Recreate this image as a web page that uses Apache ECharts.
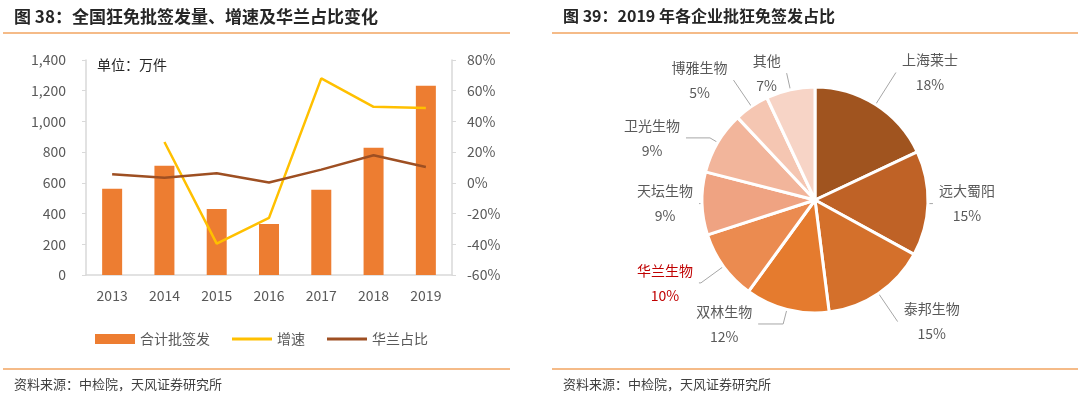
<!DOCTYPE html>
<html>
<head>
<meta charset="utf-8">
<script src="https://cdn.jsdelivr.net/npm/echarts@6/dist/echarts.min.js"></script>
<style>
  html, body { margin: 0; padding: 0; background: #fff; }
  #main { width: 1080px; height: 398px; }
</style>
</head>
<body>
<div id="main"></div>
<script>
  // 图38 data
  var years = ['2013', '2014', '2015', '2016', '2017', '2018', '2019'];
  var totalIssued = [562, 712, 430, 332, 555, 828, 1232];       // 万件
  var growthRate = [null, 26.6, -39.6, -22.8, 68.0, 49.5, 48.8]; // %
  var hualanShare = [5.6, 3.4, 6.3, 0.2, 8.6, 18.0, 10.3];       // %
  var volumeTicks = [0, 200, 400, 600, 800, 1000, 1200, 1400];
  var rateTicks = [-60, -40, -20, 0, 20, 40, 60, 80];

  // 图39 data
  var companies = ['上海莱士', '远大蜀阳', '泰邦生物', '双林生物', '华兰生物', '天坛生物', '卫光生物', '博雅生物', '其他'];
  var shares = [18, 15, 15, 12, 10, 9, 9, 5, 7];

  // styling for the pie: slice colours and leader line lengths [length, length2]
  var sliceColors = ['#A0541F', '#BF6226', '#D4702B', '#E57B2E', '#EB8B50', '#EFA382', '#F2B59B', '#F5C6B2', '#F7D4C6'];
  var leaderLines = [[38, 0], [1, 4], [34, 0], [15, 25], [28, 2], [1, 2], [9, 24], [32, 0], [17, 0]];

  var cjk = '"Noto Sans CJK SC", "Noto Sans", sans-serif';
  var grey = '#595959';
  var orangeRule = '#F2A560';
  // plain line legend icon (the extra move-to points keep the full icon box)
  var lineIcon = 'path://M0,0 M0,3.6 L40,3.6 L40,6.4 L0,6.4 Z M40,10';

  var chart = echarts.init(document.getElementById('main'));

  var pieData = companies.map(function (name, i) {
    return {
      name: name,
      value: shares[i],
      itemStyle: { color: sliceColors[i] },
      label: {
        color: name === '华兰生物' ? '#C00000' : grey,
        rich: { n: { width: name.length * 14 + 2, align: 'center', fontSize: 14, lineHeight: 25, fontFamily: cjk } }
      },
      labelLine: { length: leaderLines[i][0], length2: leaderLines[i][1] }
    };
  });

  chart.setOption({
    animation: false,
    textStyle: { fontFamily: cjk },
    graphic: [
      { type: 'text', left: 14, top: 8, style: { text: '图 38：全国狂免批签发量、增速及华兰占比变化', font: 'bold 17px ' + cjk, fill: '#262626' } },
      { type: 'text', left: 563, top: 8, style: { text: '图 39：2019 年各企业批狂免签发占比', font: 'bold 16px ' + cjk, fill: '#262626' } },
      { type: 'line', shape: { x1: 3, y1: 33, x2: 510, y2: 33 }, style: { stroke: orangeRule, lineWidth: 1.5 } },
      { type: 'line', shape: { x1: 552, y1: 33, x2: 1078, y2: 33 }, style: { stroke: orangeRule, lineWidth: 1.5 } },
      { type: 'line', shape: { x1: 3, y1: 369, x2: 510, y2: 369 }, style: { stroke: orangeRule, lineWidth: 1.5 } },
      { type: 'line', shape: { x1: 552, y1: 369, x2: 1078, y2: 369 }, style: { stroke: orangeRule, lineWidth: 1.5 } },
      { type: 'text', left: 14, top: 378, style: { text: '资料来源：中检院，天风证券研究所', font: '13px ' + cjk, fill: '#404040' } },
      { type: 'text', left: 563, top: 378, style: { text: '资料来源：中检院，天风证券研究所', font: '13px ' + cjk, fill: '#404040' } },
      { type: 'text', left: 97, top: 58, style: { text: '单位：万件', font: '14px ' + cjk, fill: '#262626' } }
    ],
    legend: {
      left: 90,
      top: 327,
      itemWidth: 40,
      itemHeight: 10,
      itemGap: 22,
      textStyle: { color: grey, fontSize: 14, fontFamily: cjk },
      data: [
        { name: '合计批签发', icon: 'rect' },
        { name: '增速', icon: lineIcon },
        { name: '华兰占比', icon: lineIcon }
      ]
    },
    grid: { left: 86, right: 628, top: 60, bottom: 123 },
    xAxis: {
      type: 'category',
      data: years,
      axisLine: { lineStyle: { color: '#D9D9D9', width: 1.5 } },
      axisTick: { show: false },
      axisLabel: { color: grey, fontSize: 14, margin: 14 }
    },
    yAxis: [
      {
        type: 'value',
        min: volumeTicks[0],
        max: volumeTicks[volumeTicks.length - 1],
        interval: volumeTicks[1] - volumeTicks[0],
        axisLine: { show: true, lineStyle: { color: '#D9D9D9', width: 1.5 } },
        axisTick: { show: true, length: 4, lineStyle: { color: '#D9D9D9' } },
        splitLine: { show: false },
        axisLabel: {
          color: grey, fontSize: 14, margin: 20,
          formatter: function (v) { return v.toLocaleString('en-US'); }
        }
      },
      {
        type: 'value',
        min: rateTicks[0],
        max: rateTicks[rateTicks.length - 1],
        interval: rateTicks[1] - rateTicks[0],
        axisLine: { show: true, lineStyle: { color: '#D9D9D9', width: 1.5 } },
        axisTick: { show: true, length: 4, lineStyle: { color: '#D9D9D9' } },
        splitLine: { show: false },
        axisLabel: { color: grey, fontSize: 14, margin: 15, formatter: '{value}%' }
      }
    ],
    series: [
      {
        name: '合计批签发',
        type: 'bar',
        data: totalIssued,
        barWidth: 20,
        itemStyle: { color: '#ED7D31' }
      },
      {
        name: '增速',
        type: 'line',
        yAxisIndex: 1,
        data: growthRate,
        symbol: 'none',
        lineStyle: { color: '#FFC000', width: 2.5 },
        itemStyle: { color: '#FFC000' }
      },
      {
        name: '华兰占比',
        type: 'line',
        yAxisIndex: 1,
        data: hualanShare,
        symbol: 'none',
        lineStyle: { color: '#9E4F22', width: 2.5 },
        itemStyle: { color: '#9E4F22' }
      },
      {
        name: '2019企业占比',
        type: 'pie',
        center: [815, 200],
        radius: 113,
        startAngle: 90,
        clockwise: true,
        avoidLabelOverlap: false,
        data: pieData,
        itemStyle: { borderColor: '#FFFFFF', borderWidth: 3 },
        label: {
          show: true,
          position: 'outside',
          color: grey,
          formatter: '{n|{b}}\n{n|{d}%}'
        },
        labelLine: {
          show: true,
          lineStyle: { color: '#A6A6A6', width: 1 }
        }
      }
    ]
  });
</script>
</body>
</html>
